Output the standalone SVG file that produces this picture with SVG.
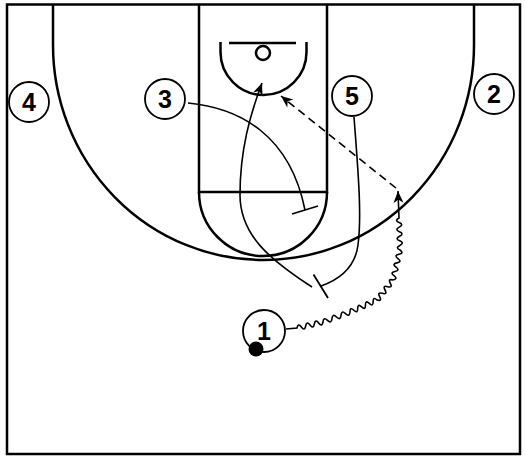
<svg xmlns="http://www.w3.org/2000/svg" width="525" height="458" viewBox="0 0 525 458">
<style>
.court{fill:none;stroke:#000;stroke-width:2.5}
.mv{fill:none;stroke:#000;stroke-width:1.6}
.pass{fill:none;stroke:#000;stroke-width:1.6;stroke-dasharray:8 5}
.scr{stroke:#000;stroke-width:1.8}
.pl circle{fill:#fff;stroke:#000;stroke-width:1.8}
.pl text{font-family:"Liberation Sans",Arial,sans-serif;font-weight:bold;font-size:25px;text-anchor:middle;fill:#000}
</style>
<defs>
<marker id="ah" viewBox="-13 -6 14 12" refX="0" refY="0" markerWidth="14" markerHeight="12" markerUnits="userSpaceOnUse" orient="auto">
<path d="M0,0 L-12,-5 L-8.5,0 L-12,5 Z" fill="#000"/>
</marker>
</defs>
<rect width="525" height="458" fill="#fff"/>
<g id="court">
<rect class="court" x="7" y="4.5" width="513" height="449.5"/>
<path class="court" d="M53,4.5 V45 A210.5,215 0 0 0 474,45 V4.5"/>
<path class="court" d="M199,4.5 V192 H327 V4.5"/>
<path class="court" d="M199,192 A64,64 0 0 0 327,192"/>
<path class="court" d="M220.5,42 V52 A43,43 0 0 0 306.5,52 V42"/>
<path class="court" d="M229,43 H296"/>
<circle class="court" cx="263" cy="53" r="7" stroke-width="2.2"/>
</g>
<g id="connectors">
<path class="mv" d="M188,103 C240,108 290,135 305,210"/>
<line class="scr" x1="292" y1="214" x2="318" y2="206"/>
<path class="mv" d="M354,117 C358,170 362,215 358,245 C355,268 338,280 321,286"/>
<line class="scr" x1="313.5" y1="274.5" x2="328" y2="298"/>
<path class="mv" d="M312,287 C270,260 240,235 240,195 C240,150 250,115 262,83" marker-end="url(#ah)"/>
<line class="pass" x1="396" y1="188" x2="281" y2="96" marker-end="url(#ah)"/>
<path class="mv" marker-end="url(#ah)" d="M286,329 L297,328
q1.04,-5.37 4.333,-1 t4.333,-1 t4.333,-1 t4.333,-1 t4.333,-1 t4.333,-1
q0.514,-5.52 4.5,-1.667 t4.5,-1.667 t4.5,-1.667 t4.5,-1.667 t4.5,-1.667 t4.5,-1.667
q-0.1,-5.43 3.857,-1.714 t3.857,-1.714 t3.857,-1.714 t3.857,-1.714 t3.857,-1.714 t3.857,-1.714 t3.857,-1.714
q5.24,1.46 2.667,-3.333 t2.667,-3.333 t2.667,-3.333 t2.667,-3.333 t2.667,-3.333 t2.667,-3.333
q5.37,-1.01 1,-4.286 t1,-4.286 t1,-4.286 t1,-4.286 t1,-4.286 t1,-4.286 t1,-4.286
q-5.07,-2.13 -0.143,-4.571 t-0.143,-4.571 t-0.143,-4.571 t-0.143,-4.571 t-0.143,-4.571 t-0.143,-4.571 t-0.143,-4.571
L398,191"/>
</g>
<g id="p4" class="pl"><circle cx="29" cy="102" r="20"/><text x="29" y="111">4</text></g>
<g id="p3" class="pl"><circle cx="165" cy="99" r="20"/><text x="165" y="108">3</text></g>
<g id="p5" class="pl"><circle cx="352" cy="96" r="20"/><text x="352" y="105">5</text></g>
<g id="p2" class="pl"><circle cx="494" cy="94" r="20"/><text x="494" y="103">2</text></g>
<g id="p1" class="pl"><circle cx="264" cy="331" r="21"/><text x="264" y="340">1</text><circle cx="256" cy="349" r="7.5" style="fill:#000;stroke:none"/></g>
</svg>
